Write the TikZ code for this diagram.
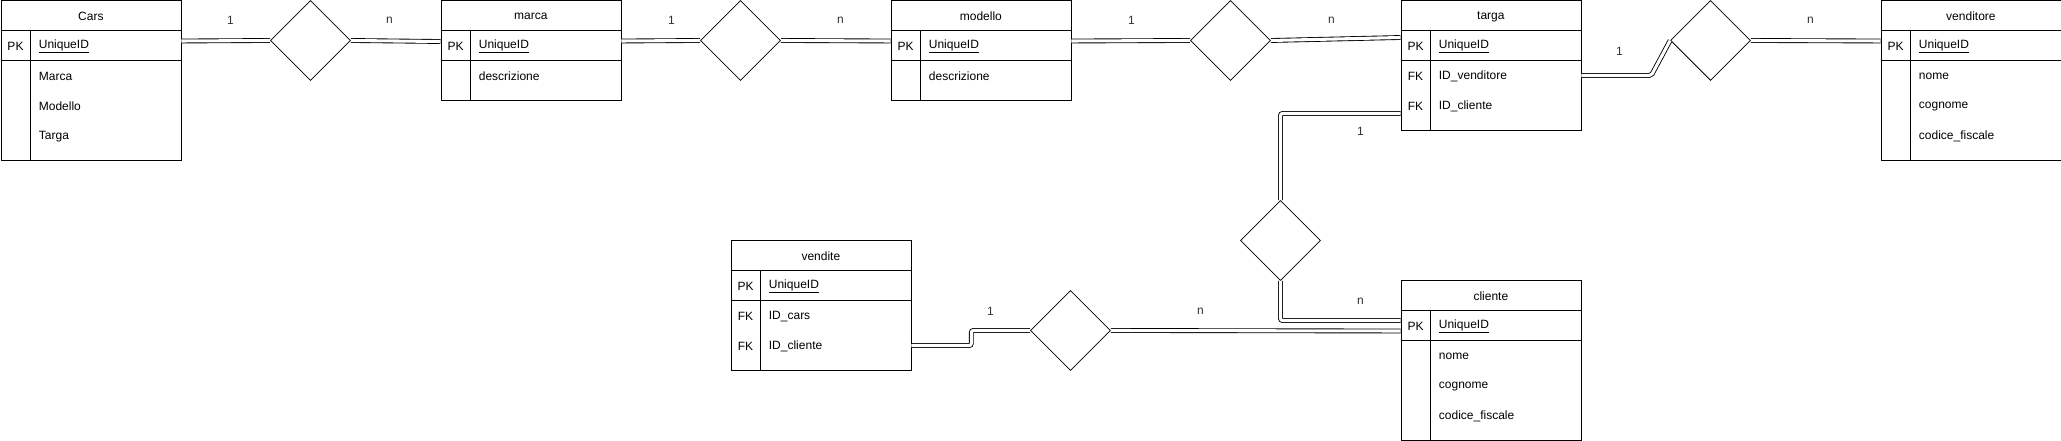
\documentclass[tikz,border=0pt]{standalone}
\usepackage{fontspec}
\setmainfont{Liberation Sans}
\usetikzlibrary{shapes.geometric,calc}

\begin{document}
\begin{tikzpicture}[x=0.75pt,y=-0.75pt,semithick,
  font=\fontsize{9}{11}\selectfont,
  tabella/.style={draw, anchor=north west, minimum width=135pt, inner sep=0pt},
  campo/.style={anchor=west, inner sep=0pt},
  rel/.style={draw, diamond, minimum width=60pt, minimum height=60pt, inner sep=0pt},
  link/.style={double, double distance=2.3pt, line width=0.65pt, rounded corners=1.5pt},
  card/.style={inner sep=0pt, text=black!80}]
 \useasboundingbox (-0.5,-0.5) rectangle (2060.5,440.5);

 % tabelle
 \node[tabella, minimum height=120pt] (cars) at (0,0) {};
 \node[tabella, minimum height=75pt] (marca) at (440,0) {};
 \node[tabella, minimum height=75pt] (modello) at (890,0) {};
 \node[tabella, minimum height=97.5pt] (targa) at (1400,0) {};
 \node[tabella, minimum height=120pt] (venditore) at (1880,0) {};
 \node[tabella, minimum height=97.5pt] (vendite) at (730,240) {};
 \node[tabella, minimum height=120pt] (cliente) at (1400,280) {};

 \foreach \t/\n in {cars/Cars, marca/marca, modello/modello, targa/targa,
                    venditore/venditore, vendite/vendite, cliente/cliente} {
   \draw ($(\t.north west)+(0,30)$) -- ($(\t.north east)+(0,30)$)
         ($(\t.north west)+(0,60)$) -- ($(\t.north east)+(0,60)$)
         ($(\t.north west)+(30,30)$) -- ($(\t.south west)+(30,0)$);
   \node (\t-titolo) at ($(\t.north)+(0,16)$) {\n};
   \node (\t-pk) at ($(\t.north west)+(15,46)$) {PK};
   \node[campo] (\t-id) at ($(\t.north west)+(38,46)$) {\underline{UniqueID}};
 }

 % campi
 \foreach \t/\i/\n in {cars/1/Marca, cars/2/Modello, cars/3/Targa,
                       marca/1/descrizione, modello/1/descrizione,
                       targa/1/ID\_venditore, targa/2/ID\_cliente,
                       venditore/1/nome, venditore/2/cognome, venditore/3/codice\_fiscale,
                       vendite/1/ID\_cars, vendite/2/ID\_cliente,
                       cliente/1/nome, cliente/2/cognome, cliente/3/codice\_fiscale}
   \node[campo] (\t-\i) at ($(\t.north west)+(38,46+30*\i)$) {\n};
 \foreach \t/\i in {targa/1, targa/2, vendite/1, vendite/2}
   \node (\t-fk\i) at ($(\t.north west)+(15,46+30*\i)$) {FK};

 % relazioni
 \node[rel] (r1) at (310,40) {};
 \node[rel] (r2) at (740,40) {};
 \node[rel] (r3) at (1230,40) {};
 \node[rel] (r4) at (1710,40) {};
 \node[rel] (r5) at (1280,240) {};
 \node[rel] (r6) at (1070,330) {};

 \draw[link] ($(cars.north east)+(0,40.5)$) -- (r1.west);
 \draw[link] (r1.east) -- ($(marca.north west)+(0,41)$);
 \draw[link] ($(marca.north east)+(0,40.5)$) -- (r2.west);
 \draw[link] (r2.east) -- ($(modello.north west)+(0,40.5)$);
 \draw[link] ($(modello.north east)+(0,40.5)$) -- (r3.west);
 \draw[link] (r3.east) -- ($(targa.north west)+(0,37)$);
 \draw[link] ($(targa.north east)+(0,75)$) -- ++(70,0) -- (r4.west);
 \draw[link] (r4.east) -- ($(venditore.north west)+(0,40.5)$);
 \draw[link] ($(targa.north west)+(0,113)$) -| (r5.north);
 \draw[link] (r5.south) |- ($(cliente.north west)+(0,40)$);
 \draw[link] ($(vendite.north east)+(0,105)$) -- ++(60,0) |- (r6.west);
 \draw[link] (r6.east) -- ($(cliente.north west)+(0,50.5)$);

 % cardinalita
 \node[card] (c1) at (230,20) {1};
 \node[card] (c2) at (389,20) {n};
 \node[card] (c3) at (671,20) {1};
 \node[card] (c4) at (840,20) {n};
 \node[card] (c5) at (1131,20) {1};
 \node[card] (c6) at (1331,20) {n};
 \node[card] (c7) at (1619,51) {1};
 \node[card] (c8) at (1810,20) {n};
 \node[card] (c9) at (1360,131) {1};
 \node[card] (c10) at (1360,301) {n};
 \node[card] (c11) at (990,311) {1};
 \node[card] (c12) at (1200,311) {n};
\end{tikzpicture}
\end{document}
